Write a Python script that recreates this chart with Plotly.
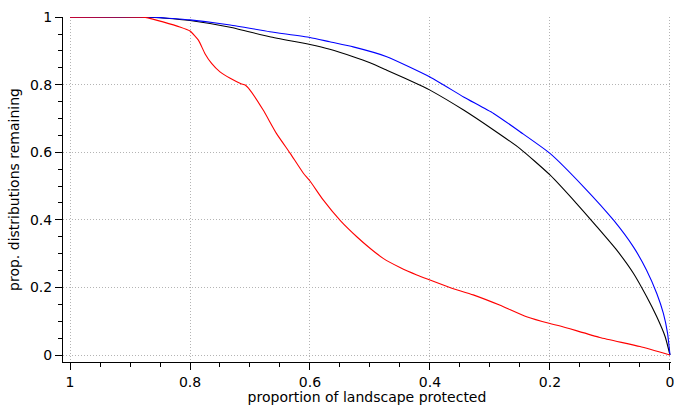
import plotly.graph_objects as go

# proportion of landscape protected (x) and proportion of distributions remaining (y)
black_x = [1.0, 0.9, 0.86, 0.84, 0.8, 0.733, 0.667, 0.6, 0.567, 0.528, 0.5, 0.472, 0.411, 0.4,
           0.344, 0.294, 0.25, 0.2, 0.156, 0.122, 0.089, 0.061, 0.039, 0.022, 0.008, 0.0]
black_y = [1.0, 1.0, 0.999, 0.997, 0.99, 0.970, 0.942, 0.919, 0.905, 0.883, 0.865, 0.843, 0.794, 0.784,
           0.725, 0.666, 0.611, 0.533, 0.449, 0.380, 0.311, 0.242, 0.173, 0.113, 0.054, 0.0]

blue_x = [1.0, 0.86, 0.845, 0.8, 0.733, 0.667, 0.6, 0.567, 0.528, 0.472, 0.4, 0.344, 0.294,
          0.25, 0.2, 0.144, 0.094, 0.061, 0.039, 0.022, 0.011, 0.004, 0.0]
blue_y = [1.0, 1.0, 0.998, 0.992, 0.977, 0.957, 0.940, 0.927, 0.912, 0.883, 0.823, 0.764, 0.715,
          0.661, 0.597, 0.498, 0.399, 0.320, 0.251, 0.182, 0.123, 0.064, 0.0]

red_x = [1.0, 0.88, 0.87, 0.845, 0.817, 0.8, 0.786, 0.775, 0.764, 0.75, 0.733, 0.715, 0.708, 0.7,
         0.678, 0.656, 0.633, 0.611, 0.6, 0.578, 0.549, 0.522, 0.5, 0.478, 0.45, 0.422, 0.4,
         0.367, 0.328, 0.283, 0.239, 0.2, 0.183, 0.117, 0.05, 0.0]
red_y = [1.0, 1.0, 0.998, 0.986, 0.971, 0.959, 0.932, 0.892, 0.863, 0.838, 0.819, 0.803, 0.799, 0.784,
         0.725, 0.656, 0.597, 0.538, 0.515, 0.459, 0.397, 0.350, 0.316, 0.286, 0.259, 0.237, 0.222,
         0.200, 0.178, 0.147, 0.113, 0.093, 0.086, 0.052, 0.025, 0.0]

fig = go.Figure()
for xs, ys, col in [(black_x, black_y, "#000000"), (blue_x, blue_y, "#0000ff"), (red_x, red_y, "#ff0000")]:
    fig.add_trace(go.Scatter(x=xs, y=ys, mode="lines",
                             line=dict(color=col, width=1.1, shape="spline", smoothing=0.5),
                             showlegend=False, hoverinfo="skip"))

font = dict(family="DejaVu Sans", size=14, color="#000000")
axis_common = dict(
    showline=True, linecolor="#000000", linewidth=1,
    ticks="outside", ticklen=7, tickcolor="#000000", tickwidth=1,
    showgrid=True, gridcolor="#b4b4b4", griddash="1px,2px", gridwidth=1,
    zeroline=False, tickmode="linear", tick0=0, dtick=0.2,
    minor=dict(dtick=0.05, tick0=0, ticks="outside", ticklen=4, tickcolor="#000000", showgrid=False),
    tickfont=font, automargin=False, ticklabeloverflow="allow",
)

fig.update_layout(
    width=674, height=405,
    margin=dict(l=63, r=3, t=17, b=43),
    paper_bgcolor="white", plot_bgcolor="white",
    font=font,
    xaxis=dict(range=[1 + 7 / 600, -0.0017],
               title=dict(text="proportion of landscape protected", font=font, standoff=4),
               **axis_common),
    yaxis=dict(range=[-7 / 338, 1.0005],
               title=dict(text="prop. distributions remaining", font=font, standoff=7),
               **axis_common),
)

fig.write_html("out.html", config={"displayModeBar": False},
               post_script="document.body.style.margin='0';document.body.style.overflow='hidden';")
